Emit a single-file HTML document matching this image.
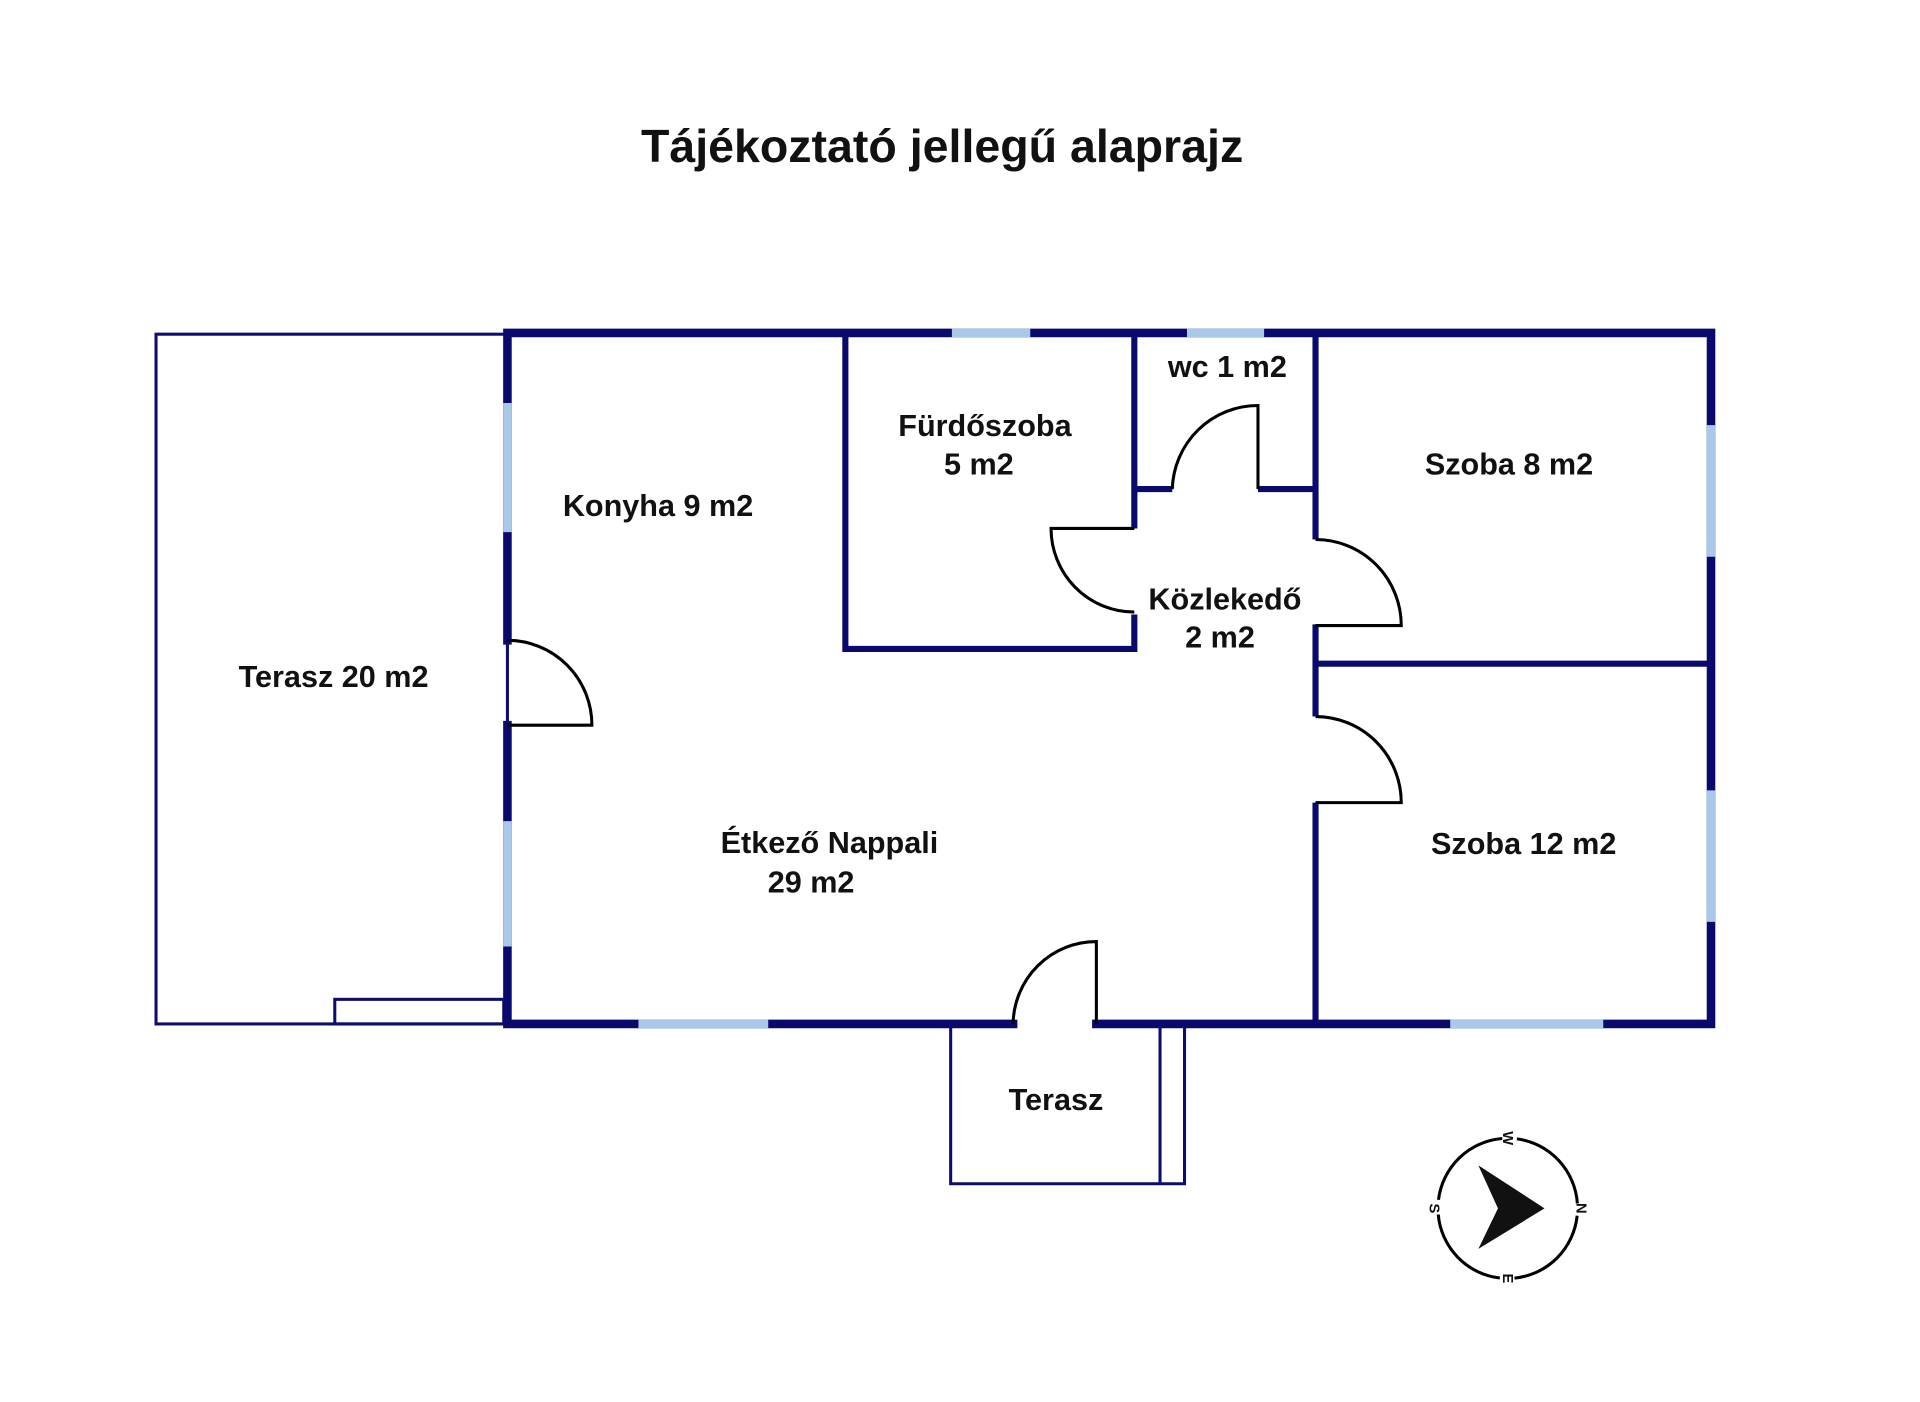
<!DOCTYPE html>
<html><head><meta charset="utf-8"><style>
html,body{margin:0;padding:0;background:#fff;width:1920px;height:1402px;overflow:hidden}
svg{display:block}
text{font-family:"Liberation Sans",sans-serif;font-weight:bold;fill:#111}
</style></head><body>
<svg width="1920" height="1402" viewBox="0 0 1920 1402">
<rect width="1920" height="1402" fill="#fff"/>
<g transform="matrix(1.2244 0 0 1.2295 -0.7 -2.7)">
<text x="770" y="134" font-size="38" text-anchor="middle">Tájékoztató jellegű alaprajz</text>
<g fill="none" stroke="#0d0d6e" stroke-width="2.5">
<rect x="128" y="274" width="287" height="561"/>
<rect x="274" y="815" width="138" height="20"/>
<path d="M777 835 V965 H968 V835 M948 835 V965"/>
</g>
<g stroke="#0a0a6e" stroke-width="7" fill="none" stroke-linecap="square">
<path d="M415 273 H1398 V835 H896 M828 835 H415 V592 M415 523 V273"/>
</g>
<g stroke="#0a0a6e" stroke-width="5" fill="none">
<path d="M691 273 V530 H927 V502 M927 432 V273"/>
<path d="M927 400 H958 M1028 400 H1075"/>
<path d="M1075 273 V441 M1075 510 V585 M1075 655 V835"/>
<path d="M1075 542 H1398"/>
</g>
<g stroke="#a9c9e9" stroke-width="7" stroke-linecap="butt">
<path d="M778 273 H842 M970 273 H1033"/>
<path d="M415 330 V435 M415 670 V772"/>
<path d="M1398 348 V455 M1398 645 V752"/>
<path d="M522 835 H628 M1185 835 H1310"/>
</g>
<g stroke="#000" stroke-width="2.5" fill="none">
<path d="M415 523 A69 69 0 0 1 484 592 H415"/>
<path d="M896 835 V768 A68 68 0 0 0 828 835"/>
<path d="M927 432 H859 A68 68 0 0 0 927 500"/>
<path d="M1028 400 V332 A70 70 0 0 0 958 400"/>
<path d="M1075 441 A70 70 0 0 1 1145 511 H1075"/>
<path d="M1075 585 A70 70 0 0 1 1145 655 H1075"/>
</g>
<g font-size="25" text-anchor="middle">
<text x="805" y="357">Fürdőszoba</text>
<text x="800" y="388">5 m2</text>
<text x="1003" y="309">wc 1 m2</text>
<text x="538" y="422">Konyha 9 m2</text>
<text x="1233" y="388">Szoba 8 m2</text>
<text x="1001" y="498">Közlekedő</text>
<text x="997" y="529">2 m2</text>
<text x="273" y="561">Terasz 20 m2</text>
<text x="678" y="696">Étkező Nappali</text>
<text x="663" y="728">29 m2</text>
<text x="1245" y="697">Szoba 12 m2</text>
<text x="863" y="905">Terasz</text>
</g>
<g transform="translate(1232 985)">
<circle r="57" fill="none" stroke="#000" stroke-width="2.5" stroke-dasharray="78 12" stroke-dashoffset="-6"/>
<polygon points="-24,-35 30,0 -24,33 -8,0" fill="#111"/>
<g font-size="12" text-anchor="middle">
<text transform="translate(60 0) rotate(90)" y="4">N</text>
<text transform="translate(-60 0) rotate(90)" y="4">S</text>
<text transform="translate(0 -57) rotate(90)" y="4">W</text>
<text transform="translate(0 57) rotate(90)" y="4">E</text>
</g>
</g>
</g>
</svg>
</body></html>
